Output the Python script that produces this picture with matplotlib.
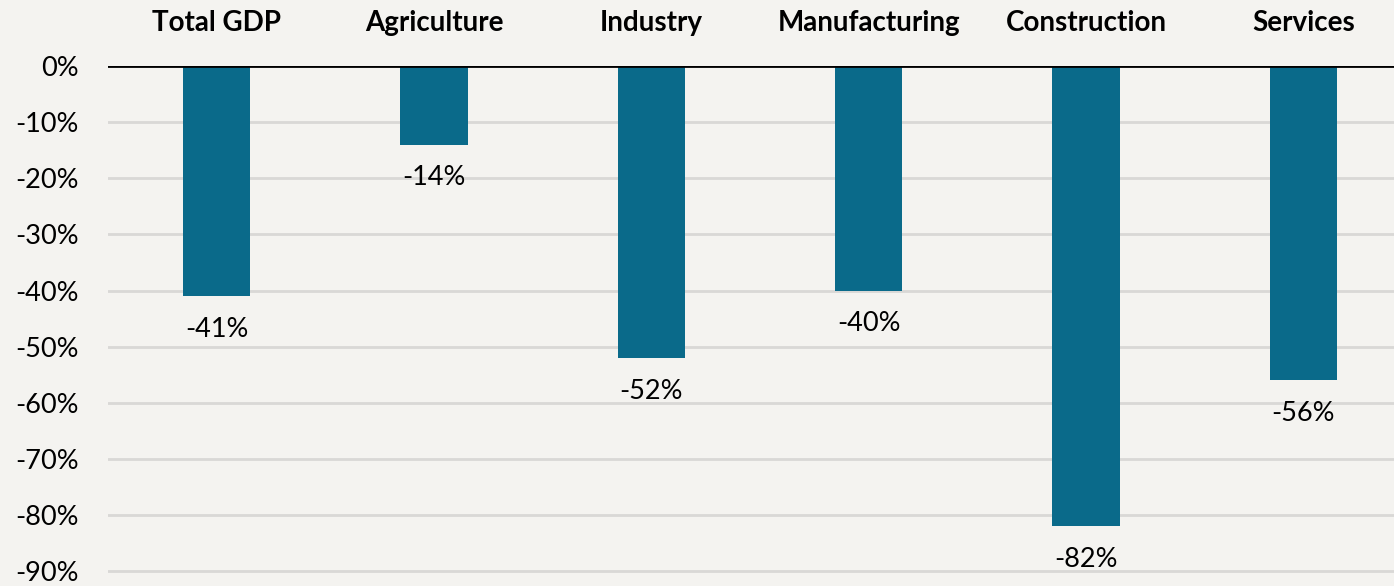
import matplotlib.pyplot as plt
from matplotlib.ticker import FuncFormatter

plt.rcParams['font.family'] = ['Lato', 'DejaVu Sans']

sectors = ['Total GDP', 'Agriculture', 'Industry', 'Manufacturing', 'Construction', 'Services']
change = [-41, -14, -52, -40, -82, -56]
yticks = [0, -10, -20, -30, -40, -50, -60, -70, -80, -90]

bg = '#f4f3f0'
bar_col = '#0a6a8a'

fig = plt.figure(figsize=(13.94, 5.86), dpi=100, facecolor=bg)
# plot area runs slightly past the right edge of the canvas
ax = fig.add_axes([108 / 1394, 13 / 586, 1304 / 1394, 507 / 586])
ax.set_facecolor(bg)

x = list(range(len(sectors)))
ax.bar(x, change, width=0.31, color=bar_col, zorder=3)

for xi, v in zip(x, change):
    ax.text(xi, v - 5.9, f'{v}%', ha='center', va='center', fontsize=19.5, color='black')

for xi, name in zip(x, sectors):
    ax.text(xi, 7.7, name, ha='center', va='center', fontsize=20, fontweight='bold', color='black')

ax.set_xlim(-0.5, len(sectors) - 0.5)
ax.set_ylim(-90.3, 0)
ax.set_yticks(yticks)
ax.yaxis.set_major_formatter(FuncFormatter(lambda v, p: f'{v:.0f}%'))
ax.tick_params(axis='y', length=0, labelsize=19.5, pad=21)
ax.set_xticks([])
ax.grid(axis='y', color='#d9d8d6', linewidth=2, zorder=0)
ax.axhline(0, color='black', linewidth=2, zorder=4)
for s in ax.spines.values():
    s.set_visible(False)

fig.savefig('out.png', dpi=100, facecolor=bg)
